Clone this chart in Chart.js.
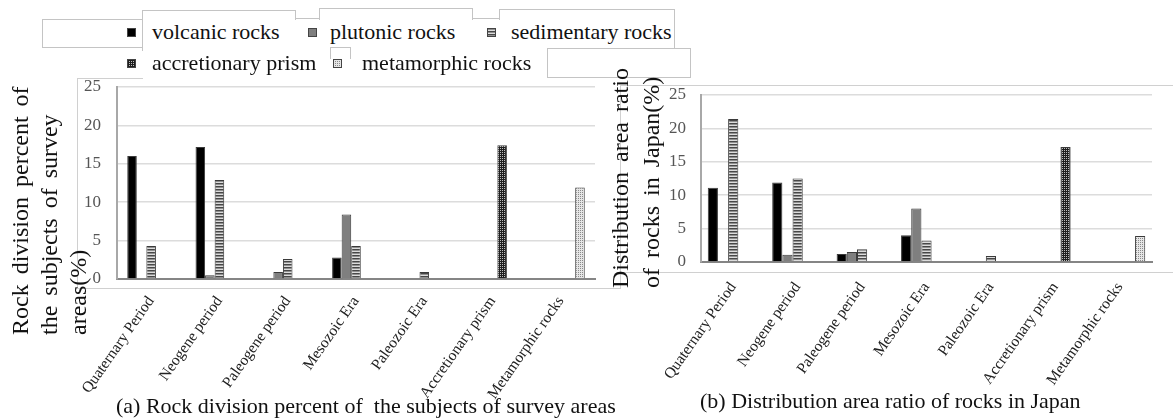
<!DOCTYPE html>
<html>
<head>
<meta charset="utf-8">
<script src="https://cdn.jsdelivr.net/npm/chart.js@4.4.0/dist/chart.umd.min.js"></script>
<style>
body { margin: 0; background: #fff; }
#page { position: relative; width: 1173px; height: 419px; overflow: hidden; font-family: "Liberation Serif", "Times New Roman", serif; color: #111; }
.frame { position: absolute; border: 0 solid #d0d0d0; box-sizing: border-box; }
.box { position: absolute; border: 1px solid #c4c4c4; background: #fff; box-sizing: border-box; }
.chartBox { position: absolute; top: 0; height: 419px; }
.ytitle { position: absolute; transform: rotate(-90deg); transform-origin: 0 0; white-space: pre; font-size: 24px; word-spacing: 4px; }
.legItem { position: absolute; font-size: 22px; line-height: 22px; white-space: nowrap; }
.legItem canvas { position: absolute; left: 0; top: 7px; width: 9px; height: 9px; }
.caption { position: absolute; font-size: 22px; line-height: 22px; white-space: nowrap; }
</style>
</head>
<body>
<div id="page">
  <!-- faint frames of the two pasted charts -->
  <div class="frame" style="left:77px;top:78px;width:544px;height:211px;border-left-width:1px;border-bottom-width:1px;"></div>
  <div class="frame" style="left:77px;top:78px;width:66px;height:1px;border-top-width:1px;"></div>
  <div class="frame" style="left:620px;top:85px;width:553px;height:188px;border-left-width:1px;border-top-width:1px;border-bottom-width:1px;"></div>
  <div class="frame" style="left:620px;top:272px;width:1px;height:17px;border-left-width:1px;"></div>

  <div class="chartBox" style="left:0;width:600px;"><canvas id="chartA"></canvas></div>
  <div class="chartBox" style="left:600px;width:573px;"><canvas id="chartB"></canvas></div>

  <!-- legend boxes -->
  <div class="box" style="left:42px;top:19px;width:101px;height:29px;"></div>
  <div class="box" style="left:142px;top:18px;width:533px;height:33px;border-bottom:0;"></div>
  <div class="box" style="left:142px;top:10px;width:154px;height:10px;border-bottom:0;"></div>
  <div class="box" style="left:319px;top:8px;width:154px;height:12px;border-bottom:0;"></div>
  <div class="box" style="left:499px;top:9px;width:176px;height:11px;border-bottom:0;"></div>
  <div class="box" style="left:330px;top:47px;width:21px;height:12px;border-bottom:0;"></div>
  <div class="box" style="left:547px;top:48px;width:144px;height:30px;"></div>
  <div id="legend"></div>

  <div class="ytitle" style="left:6px;top:335px;line-height:29px;">Rock division percent of
the subjects of survey
areas(%)</div>
  <div class="ytitle" style="left:605px;top:288px;line-height:31px;">Distribution area ratio
of rocks in Japan(%)</div>

  <div class="caption" style="left:116px;top:395px;">(a) Rock division percent of&nbsp; the subjects of survey areas</div>
  <div class="caption" style="left:700px;top:390px;">(b) Distribution area ratio of rocks in Japan</div>
</div>

<script>
// categories and series
const categories = ['Quaternary Period', 'Neogene period', 'Paleogene period', 'Mesozoic Era', 'Paleozoic Era', 'Accretionary prism', 'Metamorphic rocks'];
const rockTypes = ['volcanic rocks', 'plutonic rocks', 'sedimentary rocks', 'accretionary prism', 'metamorphic rocks'];
const yTicks = [0, 5, 10, 15, 20, 25];

// (a) subjects of survey areas (%)
const surveyVolcanic     = [16.0, 17.2, 0,   2.8, 0,   0,    0];
const surveyPlutonic     = [0,    0.5,  0.9, 8.4, 0,   0,    0];
const surveySedimentary  = [4.3,  12.9, 2.6, 4.3, 0.9, 0,    0];
const surveyAccretionary = [0,    0,    0,   0,   0,   17.4, 0];
const surveyMetamorphic  = [0,    0,    0,   0,   0,   0,    11.9];

// (b) distribution area in Japan (%)
const japanVolcanic     = [11.1, 11.9, 1.2, 4.0, 0,   0,    0];
const japanPlutonic     = [0,    1.1,  1.5, 8.0, 0,   0,    0];
const japanSedimentary  = [21.4, 12.5, 1.9, 3.2, 0.9, 0,    0];
const japanAccretionary = [0,    0,    0,   0,   0,   17.2, 0];
const japanMetamorphic  = [0,    0,    0,   0,   0,   0,    3.9];

// fill patterns like the printed figure
function makePattern(kind) {
  const c = document.createElement('canvas');
  const g = c.getContext('2d');
  if (kind === 'stripes') {
    c.width = 4; c.height = 3;
    g.fillStyle = '#dcdcdc'; g.fillRect(0, 0, 4, 3);
    g.fillStyle = '#474747'; g.fillRect(0, 0, 4, 1);
    g.fillStyle = '#8f8f8f'; g.fillRect(0, 1, 4, 1);
  } else if (kind === 'checker') {
    c.width = 2; c.height = 2;
    g.fillStyle = '#1e1e1e'; g.fillRect(0, 0, 2, 2);
    g.fillStyle = '#bdbdbd'; g.fillRect(0, 0, 1, 1);
  } else {
    c.width = 2; c.height = 2;
    g.fillStyle = '#e6e6e6'; g.fillRect(0, 0, 2, 2);
    g.fillStyle = '#8a8a8a'; g.fillRect(0, 0, 1, 1);
  }
  return g.createPattern(c, 'repeat');
}
const fills = ['#000000', '#7f7f7f', makePattern('stripes'), makePattern('checker'), makePattern('dots')];

// legend built from the dataset names
const legendSpots = [[127, 21], [308, 21], [487, 21], [127, 52], [333, 52]];
const legendText = [25, 22, 24, 25, 29];
const legend = document.getElementById('legend');
rockTypes.forEach((name, i) => {
  const item = document.createElement('div');
  item.className = 'legItem';
  item.style.left = legendSpots[i][0] + 'px';
  item.style.top = legendSpots[i][1] + 'px';
  const sw = document.createElement('canvas');
  sw.width = 9; sw.height = 9;
  const g = sw.getContext('2d');
  g.fillStyle = fills[i]; g.fillRect(0, 0, 9, 9);
  g.strokeStyle = '#444'; g.lineWidth = 1; g.strokeRect(0.5, 0.5, 8, 8);
  item.appendChild(sw);
  const t = document.createElement('span');
  t.style.marginLeft = legendText[i] + 'px';
  t.textContent = name;
  item.appendChild(t);
  legend.appendChild(item);
});

function makeChart(id, series, cfg) {
  return new Chart(document.getElementById(id), {
    type: 'bar',
    data: {
      labels: categories,
      datasets: rockTypes.map((name, i) => ({
        label: name,
        data: series[i],
        backgroundColor: fills[i],
        borderColor: '#3a3a3a',
        borderWidth: 1,
        barPercentage: 1,
        categoryPercentage: cfg.cat
      }))
    },
    options: {
      responsive: true,
      maintainAspectRatio: false,
      animation: false,
      layout: { padding: { left: cfg.left, right: cfg.right, top: cfg.top, bottom: 0 } },
      plugins: { legend: { display: false }, tooltip: { enabled: false } },
      scales: {
        x: {
          grid: { display: false },
          border: { display: true, color: '#858585', width: 2 },
          ticks: {
            autoSkip: false, minRotation: 55, maxRotation: 55, padding: cfg.xPad,
            color: '#222', font: { family: 'Liberation Serif', size: 15.5 }
          },
          afterFit: s => { s.height = cfg.xHeight; }
        },
        y: {
          min: 0, max: 25,
          afterBuildTicks: s => { s.ticks = yTicks.map(v => ({ value: v })); },
          grid: { color: '#dcdcdc', lineWidth: 1.5, drawTicks: false },
          border: { color: '#a8a8a8', width: 2 },
          ticks: { padding: cfg.tickPad, color: '#555', font: { family: 'Liberation Serif', size: 17 } },
          afterFit: s => { s.width = 40; }
        }
      }
    }
  });
}

makeChart('chartA',
  [surveyVolcanic, surveyPlutonic, surveySedimentary, surveyAccretionary, surveyMetamorphic],
  { cat: 0.70, left: 77, right: 5, top: 87, xHeight: 140, tickPad: 16, xPad: 6 });

makeChart('chartB',
  [japanVolcanic, japanPlutonic, japanSedimentary, japanAccretionary, japanMetamorphic],
  { cat: 0.79, left: 61, right: 21, top: 95, xHeight: 157, tickPad: 15, xPad: 9 });
</script>
</body>
</html>
